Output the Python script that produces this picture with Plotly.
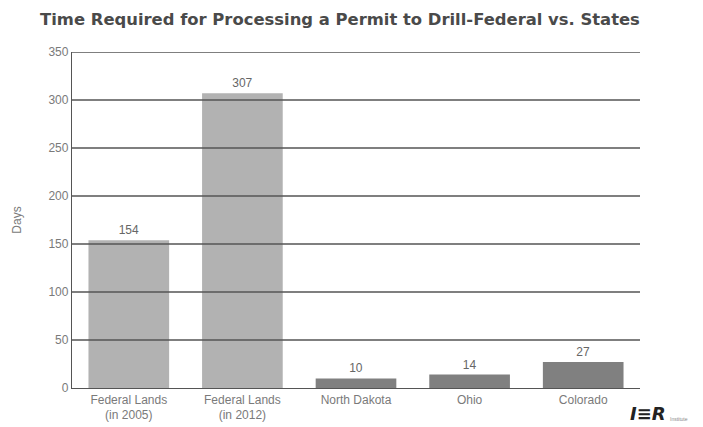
import plotly.graph_objects as go

categories = ["Federal Lands<br>(in 2005)", "Federal Lands<br>(in 2012)", "North Dakota", "Ohio", "Colorado"]
days = [154, 307, 10, 14, 27]
bar_colors = ["#b2b2b2", "#b2b2b2", "#808080", "#808080", "#808080"]
y_ticks = [0, 50, 100, 150, 200, 250, 300, 350]

fig = go.Figure()
fig.add_trace(go.Bar(
    x=categories, y=days,
    marker=dict(color=bar_colors, line=dict(width=0)),
    text=[str(v) for v in days], textposition="outside",
    textfont=dict(family="Liberation Sans, Arial", size=12, color="#666666"),
    cliponaxis=False,
))

# gridlines drawn above bars
for t in y_ticks[1:]:
    fig.add_shape(type="line", xref="paper", yref="y", x0=0, x1=1, y0=t, y1=t,
                  line=dict(color="#555555", width=1.3), layer="above")

fig.update_layout(
    width=703, height=427,
    margin=dict(l=72, r=63, t=52, b=39),
    paper_bgcolor="white", plot_bgcolor="white",
    bargap=0.29,
    showlegend=False,
    title=dict(text="<b>Time Required for Processing a Permit to Drill-Federal vs. States</b>",
               x=0.057, xanchor="left", y=0.955, yanchor="middle",
               font=dict(family="DejaVu Sans, Arial", size=16.4, color="#4a4a4a")),
    font=dict(family="Liberation Sans, Arial", color="#777777"),
)
fig.update_yaxes(
    range=[0, 350], tickvals=y_ticks, showgrid=False,
    showline=True, linecolor="#555555", linewidth=1.3,
    ticks="", ticklen=0, tickfont=dict(size=12, color="#7a7a7a"),
    title=dict(text="Days", font=dict(size=12, color="#7a7a7a"), standoff=24),
    zeroline=False, automargin=False,
)
fig.update_xaxes(
    showline=True, linecolor="#555555", linewidth=1.3,
    ticks="", tickfont=dict(size=12, color="#7a7a7a"), tickangle=0,
    automargin=False,
)
fig.add_annotation(text="<b><i>I≡R</i></b>", xref="paper", yref="paper",
                   x=0.979, y=-0.075, xanchor="left", yanchor="middle", showarrow=False,
                   font=dict(family="DejaVu Sans, Arial", size=18, color="#222222"))
fig.add_annotation(text="Institute", xref="paper", yref="paper",
                   x=1.05, y=-0.092, xanchor="left", yanchor="middle", showarrow=False,
                   font=dict(family="Liberation Sans, Arial", size=5, color="#888888"))

fig.write_html("out.html")
